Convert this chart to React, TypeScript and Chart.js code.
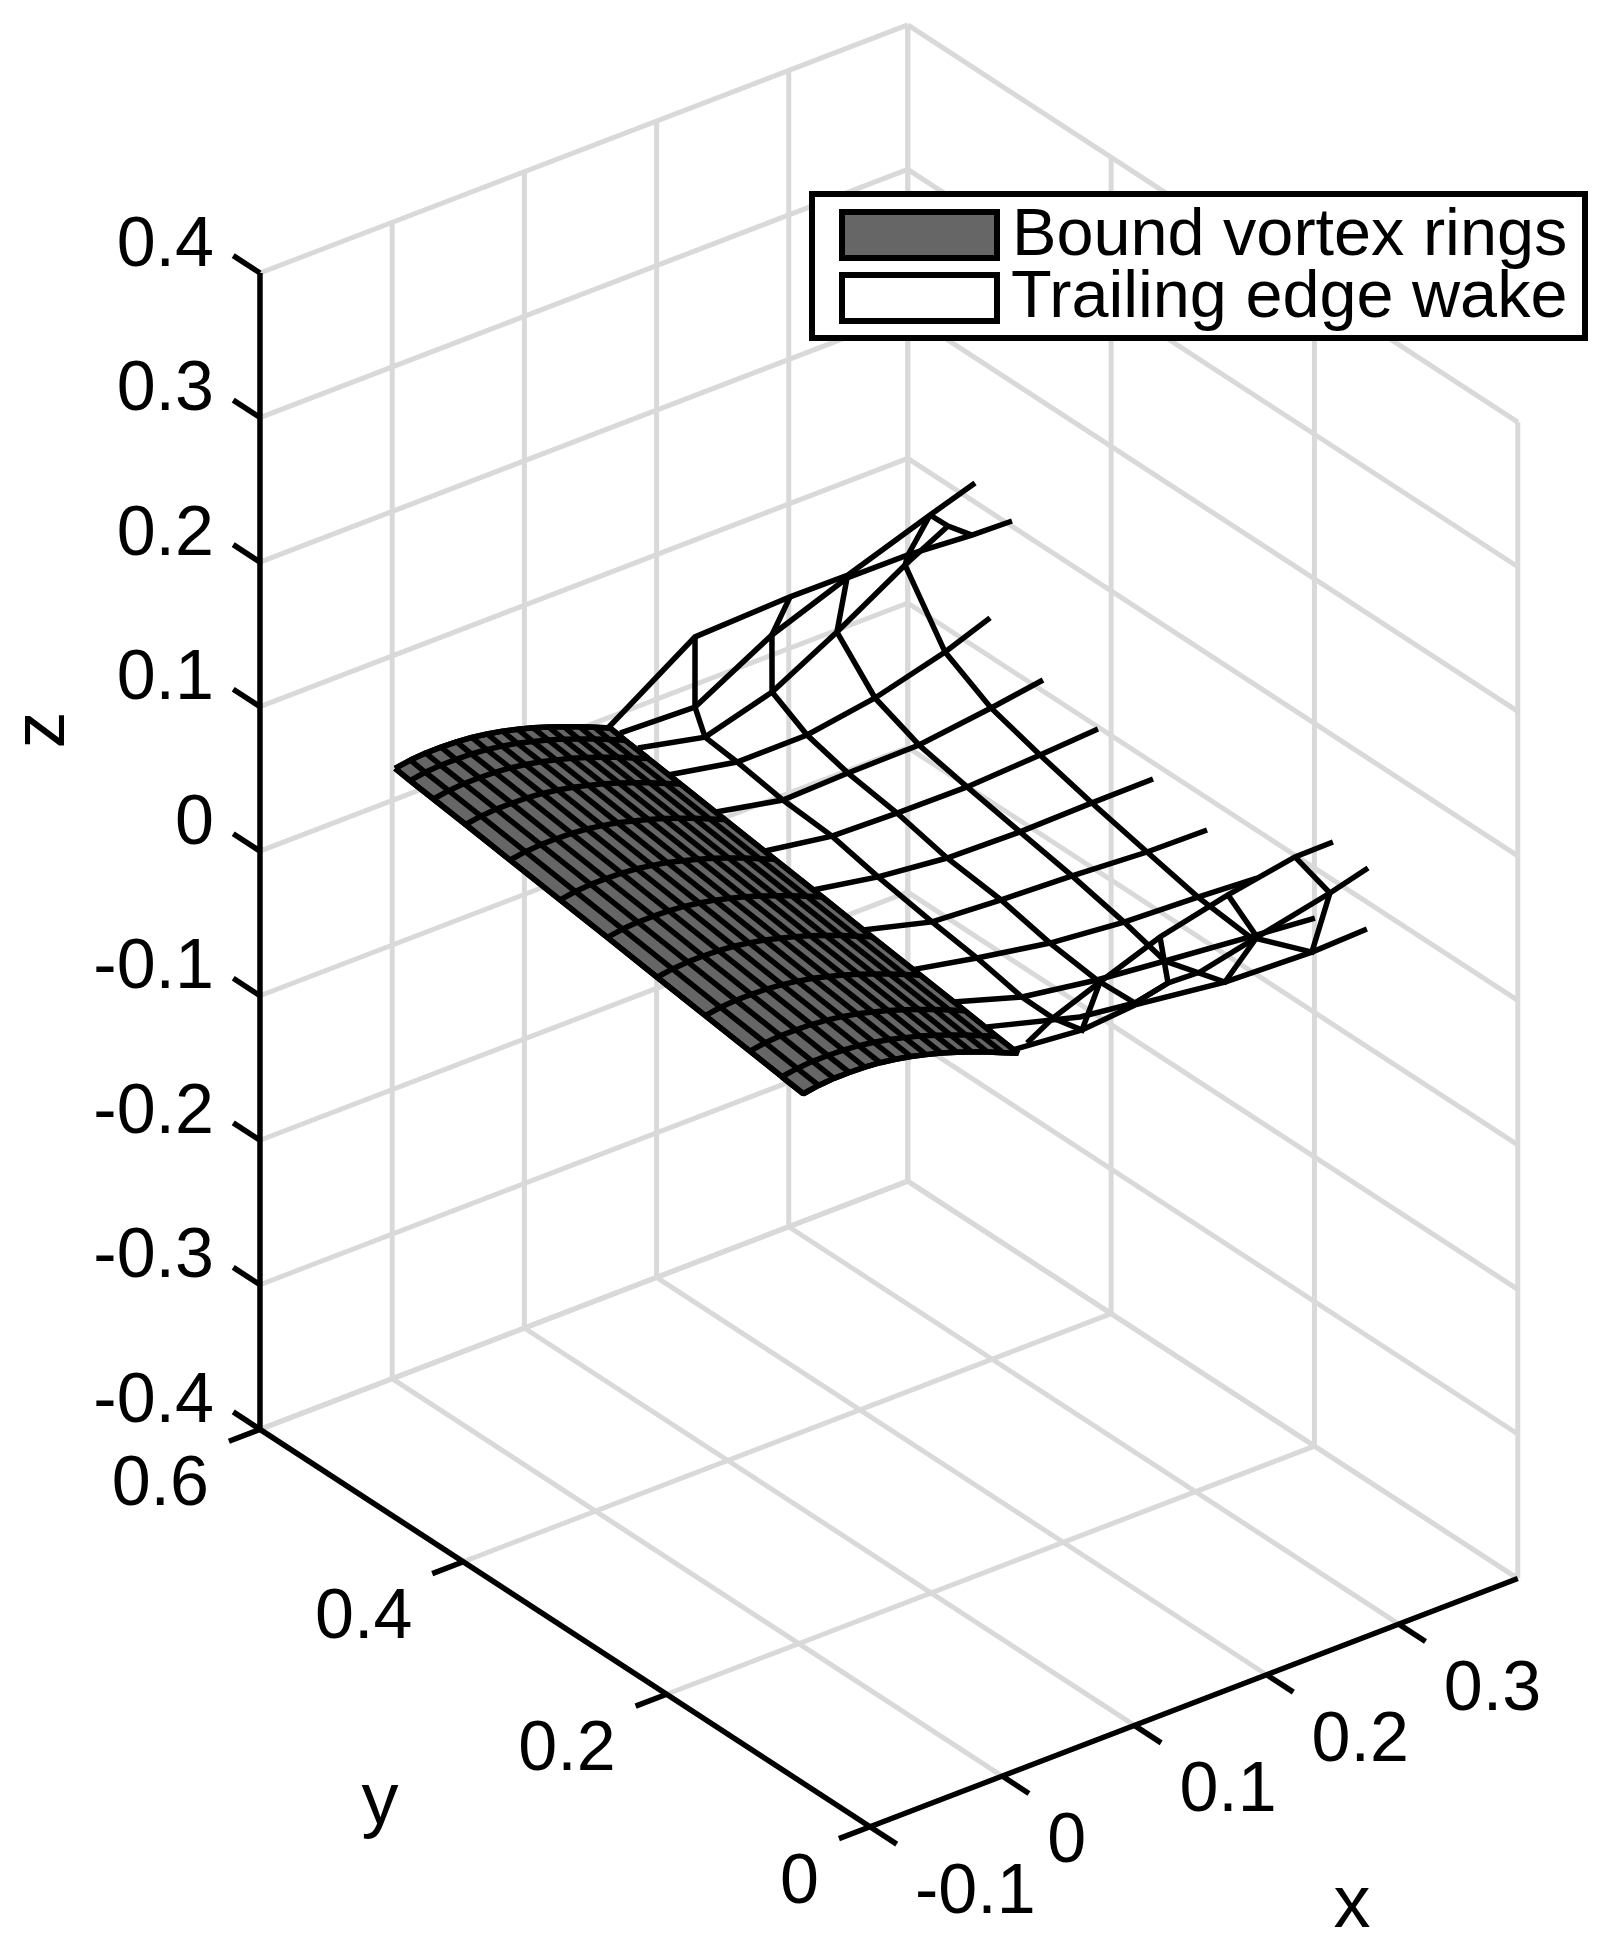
import { useEffect, useRef } from "react"
import { Chart, registerables } from "chart.js"

Chart.register(...registerables)

// axes
const xLimits = [-0.1, 0.39]
const yLimits = [0, 0.6]
const zLimits = [-0.4, 0.4]
const xTicks = [-0.1, 0, 0.1, 0.2, 0.3]
const yTicks = [0, 0.2, 0.4, 0.6]
const zTicks = [-0.4, -0.3, -0.2, -0.1, 0, 0.1, 0.2, 0.3, 0.4]
const legendLabels = ["Bound vortex rings", "Trailing edge wake"]

// wing surface: span stations, leading edge x at each, then the chord profile
const wingY = [0.58, 0.563, 0.537, 0.501, 0.451, 0.395, 0.342, 0.286, 0.232, 0.182, 0.146, 0.122]
const wingLeadX = [-0.0132, -0.015, -0.0173, -0.0206, -0.0254, -0.0307, -0.0357, -0.0411, -0.0462, -0.0509, -0.0544, -0.0566]
const chordX = [0, 0.0116, 0.0232, 0.0348, 0.0465, 0.0581, 0.0697, 0.0813, 0.0929, 0.1045, 0.1161, 0.1277, 0.1394, 0.151, 0.1626]
const chordZ = [0.036, 0.0377, 0.0385, 0.0385, 0.0381, 0.0371, 0.0354, 0.0333, 0.0305, 0.0275, 0.024, 0.0201, 0.016, 0.0115, 0.007]

// wake filaments, one y per string
const wakeY = [0.58, 0.563, 0.537, 0.501, 0.451, 0.395, 0.342, 0.286, 0.232, 0.182, 0.146, 0.122, 0.122]
const wakeX = [
  [0.1479, 0.2137, 0.2856, 0.3294, 0.3915, 0.4255],
  [0.1439, 0.2006, 0.2588, 0.3156, 0.3617, 0.4101, 0.4404],
  [0.1375, 0.1882, 0.2389, 0.288, 0.3395, 0.372],
  [0.1325, 0.1847, 0.2377, 0.2891, 0.3421, 0.3761],
  [0.1303, 0.181, 0.2302, 0.2839, 0.3384, 0.3777],
  [0.1244, 0.175, 0.2242, 0.2772, 0.3324, 0.3762],
  [0.1199, 0.1691, 0.2213, 0.2765, 0.3309, 0.3771],
  [0.1147, 0.1669, 0.2191, 0.2728, 0.3295, 0.3749],
  [0.1087, 0.1594, 0.2146, 0.2706, 0.3265, 0.3712],
  [0.1027, 0.1549, 0.2116, 0.2631, 0.3274, 0.3765],
  [0.1008, 0.1711, 0.2127, 0.2377, 0.2619, 0.305, 0.3602, 0.389],
  [0.1012, 0.1542, 0.1943, 0.2623, 0.3281, 0.3697],
  [0.1126, 0.1322, 0.1678, 0.2132, 0.2646, 0.3153, 0.344],
]
const wakeZ = [
  [0.0075, 0.0475, 0.05, 0.0497, 0.0695, 0.0798],
  [0.0132, 0.0113, 0.0408, 0.0603, 0.0601, 0.0569, 0.056],
  [0.017, 0.0068, 0.0202, 0.0445, 0.0728, 0.0884],
  [0.0166, 0.0073, 0.0074, 0.015, 0.0282, 0.0399],
  [0.0147, 0.0052, 0.0066, 0.0072, 0.0137, 0.0193],
  [0.0154, 0.008, 0.0067, 0.0062, 0.0089, 0.0116],
  [0.0143, 0.0061, 0.0009, -0.0004, 0.0006, 0.001],
  [0.0141, 0.0014, -0.0017, -0.0039, -0.0072, -0.0079],
  [0.0132, 0.0038, -0.0052, -0.0103, -0.0126, -0.0151],
  [0.0162, 0.0013, -0.0068, -0.0117, -0.0176, -0.0217],
  [0.0161, -0.0017, -0.0066, -0.0015, -0.0024, 0.0067, 0.0178, 0.025],
  [0.0109, 0.0062, 0.0095, 0.0015, -0.0008, 0.0006],
  [0.0118, 0.0222, 0.0347, 0.0499, 0.061, 0.0695, 0.0698],
]
// cross lines of the wake, as [string, node]
const wakeCross = [
  [[0, 1], [1, 1], [2, 1], [3, 1], [4, 1], [5, 1], [6, 1], [7, 1], [8, 1], [9, 1], [12, 1], [11, 1], [12, 2]],
  [[0, 2], [1, 2], [2, 2], [3, 2], [4, 2], [5, 2], [6, 2], [7, 2], [8, 2], [9, 2], [10, 2], [10, 3], [12, 3]],
  [[0, 3], [1, 3], [2, 3], [3, 3], [4, 3], [5, 3], [6, 3], [7, 3], [8, 3], [9, 3], [11, 3], [10, 5], [12, 4]],
  [[0, 4], [1, 4], [2, 4], [3, 4], [4, 4], [5, 4], [6, 4], [7, 4], [8, 4], [9, 4], [11, 4], [10, 6], [12, 5]],
  [[0, 4], [2, 5], [1, 5]],
]

// the MATLAB view, as pixels per data unit
const project = (x: number, y: number, z: number) => ({
  x: 1002.2 + 1322 * x - 1016.7 * y,
  y: 1197.9 - 506.5 * x - 662.3 * y - 1445.4 * z,
})

const GRID = "#d9d9d9"
const BLACK = "#000000"
const GRAY = "#666666"
const FONT = '"Liberation Sans", Arial, sans-serif'

function lineSet(points: { x: number; y: number }[], color: string, width: number, order: number, extra = {}) {
  return {
    data: points,
    showLine: true,
    borderColor: color,
    borderWidth: width,
    pointRadius: 0,
    tension: 0,
    clip: false,
    order,
    ...extra,
  }
}

function buildDatasets() {
  const sets: any[] = []
  const [x0, x1] = xLimits
  const [y0, y1] = yLimits
  const [z0, z1] = zLimits
  const gridLine = (a: number[], b: number[]) => sets.push(lineSet([project(a[0], a[1], a[2]), project(b[0], b[1], b[2])], GRID, 5, 5))
  const axisLine = (a: number[], b: number[], w = 5.5) => sets.push(lineSet([project(a[0], a[1], a[2]), project(b[0], b[1], b[2])], BLACK, w, 0))

  // floor and the two back walls
  for (const x of [...xTicks.slice(1), x1]) {
    gridLine([x, y0, z0], [x, y1, z0])
    gridLine([x, y1, z0], [x, y1, z1])
  }
  for (const y of [...yTicks.slice(1, -1), y0, y1]) {
    gridLine([x0, y, z0], [x1, y, z0])
    gridLine([x1, y, z0], [x1, y, z1])
  }
  for (const z of zTicks) {
    gridLine([x0, y1, z], [x1, y1, z])
    gridLine([x1, y1, z], [x1, y0, z])
  }

  // wake
  wakeX.forEach((xs, i) => {
    sets.push(lineSet(xs.map((x, j) => project(x, wakeY[i], wakeZ[i][j])), BLACK, 5.5, 3))
  })
  wakeCross.forEach((line) => {
    sets.push(lineSet(line.map(([i, j]) => project(wakeX[i][j], wakeY[i], wakeZ[i][j])), BLACK, 5.5, 3))
  })

  // wing, the filled shape first and the rings over it
  const wingPoint = (k: number, j: number) => project(wingLeadX[k] + chordX[j], wingY[k], chordZ[j])
  const last = chordX.length - 1
  const outline = [
    ...chordX.map((_, j) => wingPoint(0, j)),
    ...wingY.map((_, k) => wingPoint(k, last)),
    ...chordX.map((_, j) => wingPoint(wingY.length - 1, last - j)),
    ...wingY.map((_, k) => wingPoint(wingY.length - 1 - k, 0)),
  ]
  sets.push(lineSet(outline, BLACK, 5.5, 2, { fill: "shape", backgroundColor: GRAY, borderJoinStyle: "bevel" }))
  wingY.forEach((_, k) => sets.push(lineSet(chordX.map((_c, j) => wingPoint(k, j)), BLACK, 5.5, 1, { borderJoinStyle: "bevel" })))
  chordX.forEach((_, j) => sets.push(lineSet(wingY.map((_y, k) => wingPoint(k, j)), BLACK, 5.5, 1, { borderJoinStyle: "bevel" })))

  // axes and ticks
  axisLine([x0, y0, z0], [x1, y0, z0])
  axisLine([x0, y0, z0], [x0, y1, z0])
  axisLine([x0, y1, z0], [x0, y1, z1])
  for (const x of xTicks) axisLine([x, y0, z0], [x, y0 - 0.0263, z0])
  for (const y of yTicks) axisLine([x0, y, z0], [x0 - 0.0235, y, z0])
  for (const z of zTicks) axisLine([x0, y1, z], [x0, y1 + 0.0263, z])
  return sets
}

const labelsPlugin = {
  id: "labels3d",
  afterDraw(chart: any) {
    const { ctx, scales } = chart
    const at = (x: number, y: number, z: number) => {
      const p = project(x, y, z)
      return { x: scales.x.getPixelForValue(p.x), y: scales.y.getPixelForValue(p.y) }
    }
    ctx.save()
    ctx.fillStyle = BLACK
    ctx.textBaseline = "alphabetic"
    ctx.font = `70px ${FONT}`

    ctx.textAlign = "right"
    for (const z of zTicks) {
      const p = at(xLimits[0], yLimits[1], z)
      ctx.fillText(String(z), p.x - 46, p.y - 7.5)
    }
    for (const y of yTicks) {
      const p = at(xLimits[0], y, zLimits[0])
      ctx.fillText(String(y), p.x - 51, p.y + 76)
    }
    ctx.textAlign = "left"
    for (const x of xTicks) {
      const p = at(x, yLimits[0], zLimits[0])
      ctx.fillText(String(x), p.x + 45, p.y + 86)
    }

    // axis names
    ctx.textAlign = "center"
    ctx.font = `74px ${FONT}`
    ctx.fillText("x", 1352, 1927)
    ctx.fillText("y", 380, 1824)
    ctx.save()
    ctx.translate(64, 730)
    ctx.rotate(-Math.PI / 2)
    ctx.fillText("z", 0, 0)
    ctx.restore()

    // legend
    ctx.fillStyle = "#ffffff"
    ctx.strokeStyle = BLACK
    ctx.lineWidth = 6
    ctx.fillRect(812, 194, 773, 144)
    ctx.strokeRect(812, 194, 773, 144)
    ctx.fillStyle = GRAY
    ctx.fillRect(842, 212, 155, 46)
    ctx.strokeRect(842, 212, 155, 46)
    ctx.fillStyle = "#ffffff"
    ctx.fillRect(842, 275, 155, 46)
    ctx.strokeRect(842, 275, 155, 46)
    ctx.fillStyle = BLACK
    ctx.textAlign = "left"
    ctx.font = `66.6px ${FONT}`
    ctx.fillText(legendLabels[0], 1012, 255)
    ctx.fillText(legendLabels[1], 1011, 317)
    ctx.restore()
  },
}

export default function App() {
  const chartRef = useRef<HTMLCanvasElement>(null)

  useEffect(() => {
    if (!chartRef.current) return
    const chart = new Chart(chartRef.current, {
      type: "scatter",
      data: { datasets: buildDatasets() },
      options: {
        responsive: false,
        animation: false,
        devicePixelRatio: 1,
        events: [],
        layout: { padding: 0 },
        scales: {
          x: { type: "linear", display: false, min: 0, max: 1609 },
          y: { type: "linear", display: false, min: 0, max: 1953, reverse: true },
        },
        plugins: {
          legend: { display: false },
          tooltip: { enabled: false },
        },
      },
      plugins: [labelsPlugin],
    } as any)
    return () => chart.destroy()
  }, [])

  return (
    <div style={{ position: "absolute", left: 0, top: 0, width: 1609, height: 1953, background: "#fff" }}>
      <canvas ref={chartRef} width={1609} height={1953} style={{ display: "block" }} />
    </div>
  )
}
